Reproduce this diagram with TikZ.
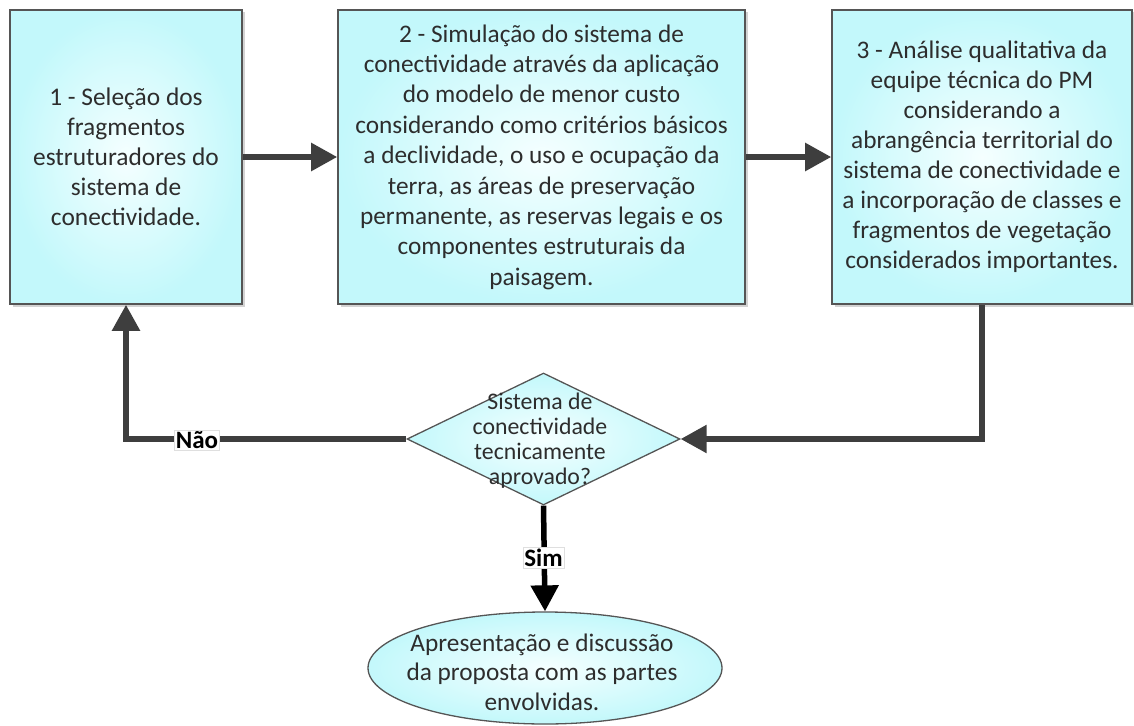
\documentclass[tikz,border=0pt]{standalone}
\usepackage{fontspec}
\setmainfont{Carlito}
\usetikzlibrary{shapes.geometric,arrows.meta,shadows}
\definecolor{boxedge}{RGB}{195,248,251}
\definecolor{boxin}{RGB}{245,255,255}
\definecolor{lineg}{RGB}{62,62,62}
\definecolor{txt}{RGB}{45,45,45}
\definecolor{frameg}{RGB}{85,85,85}
\tikzset{
  stepbox/.style={draw=frameg, line width=1.6pt, shading=radial, inner color=boxin, outer color=boxedge,
    drop shadow={shadow xshift=2.5pt, shadow yshift=-2.5pt, opacity=0.35, fill=gray}, inner sep=0pt},
  boxtext/.style={text=txt, align=center, inner sep=0pt},
  flow/.style={draw=lineg, line width=5.5pt, -{Triangle[length=26pt,width=27pt]}},
  lbl/.style={fill=white, draw=gray!25, line width=0.6pt, inner sep=1.5pt, text=black,
    font=\fontsize{25}{27}\selectfont\bfseries},
}
\begin{document}
\begin{tikzpicture}[x=1pt,y=-1pt]
\useasboundingbox (0,0) rectangle (1134,725);
% boxes
\node[stepbox, minimum width=232pt, minimum height=294pt] (b1) at (126,157) {};
\node[stepbox, minimum width=407pt, minimum height=294pt] (b2) at (541.5,157) {};
\node[stepbox, minimum width=300pt, minimum height=294pt] (b3) at (982,157) {};
\node[boxtext, font=\fontsize{25.4}{30}\selectfont] (t1) at (126,157)
  {1 - Seleção dos\\fragmentos\\estruturadores do\\sistema de\\conectividade.};
\node[boxtext, font=\fontsize{25.3}{30.4}\selectfont] (t2) at (541.5,157)
  {2 - Simulação do sistema de\\conectividade através da aplicação\\do modelo de menor custo\\considerando como critérios básicos\\a declividade, o uso e ocupação da\\terra, as áreas de preservação\\permanente, as reservas legais e os\\componentes estruturais da\\paisagem.};
\node[boxtext, font=\fontsize{25.3}{30}\selectfont] (t3) at (982,157)
  {3 - Análise qualitativa da\\equipe técnica do PM\\considerando a\\abrangência territorial do\\sistema de conectividade e\\a incorporação de classes e\\fragmentos de vegetação\\considerados importantes.};
% decision
\node[diamond, draw=frameg, line width=1.3pt, shading=radial, inner color=boxin, outer color=boxedge,
  minimum width=273pt, minimum height=132pt, inner sep=0pt] (d) at (543.5,439) {};
\node[boxtext, font=\fontsize{23.8}{25}\selectfont] (dt) at (540,441)
  {Sistema de\\conectividade\\tecnicamente\\aprovado?};
% end ellipse
\node[ellipse, draw=frameg, line width=1.3pt, shading=radial, inner color=boxin, outer color=boxedge,
  minimum width=354pt, minimum height=112pt, inner sep=0pt] (e) at (545,668) {};
\node[boxtext, font=\fontsize{25.3}{29.5}\selectfont] (et) at (542,672)
  {Apresentação e discussão\\da proposta com as partes\\envolvidas.};
% connectors
\draw[flow] (b1.east) -- (b2.west);
\draw[flow] (b2.east) -- (b3.west);
\draw[flow] (b3.south) |- (d.east);
\draw[flow] (d.west) -| (b1.south);
\draw[flow, draw=black] (d.south) -- (e.north);
\node[lbl] (nao) at (197,440) {Não};
\node[lbl] (sim) at (543.5,558) {Sim};
\end{tikzpicture}
\end{document}
